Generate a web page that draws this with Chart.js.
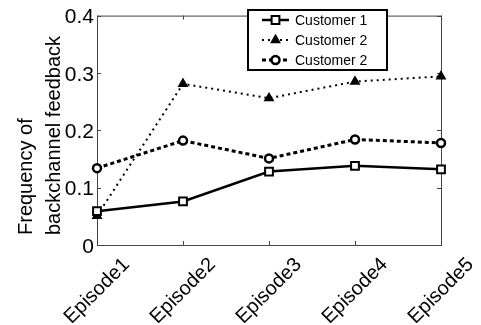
<!DOCTYPE html>
<html>
<head>
  <title>Backchannel feedback</title>
  <script src="https://cdn.jsdelivr.net/npm/chart.js"></script>
  <style>
    body { margin: 0; background: #fff; }
    canvas { display: block; }
  </style>
</head>
<body>
  <canvas id="feedbackChart" width="481" height="325"></canvas>
  <script>
    const categories = ['Episode1', 'Episode2', 'Episode3', 'Episode4', 'Episode5'];
    const customer1 = [0.059, 0.076, 0.128, 0.138, 0.132];
    const customer2Dotted = [0.051, 0.281, 0.256, 0.285, 0.294];
    const customer2Dashed = [0.134, 0.182, 0.151, 0.184, 0.178];
    const seriesNames = ['Customer 1', 'Customer 2', 'Customer 2'];
    const yTicks = [0, 0.1, 0.2, 0.3, 0.4];
    const yTitle = ['Frequency of', 'backchannel feedback'];

    const FONT = '"Liberation Sans", Arial, sans-serif';
    Chart.defaults.font.family = FONT;
    Chart.defaults.color = '#000';

    function marker(ctx, style, x, y, r, fill) {
      ctx.save();
      ctx.beginPath();
      if (style === 'rect') {
        const s = r * Math.SQRT1_2;
        ctx.rect(x - s, y - s, 2 * s, 2 * s);
      } else if (style === 'triangle') {
        ctx.moveTo(x, y - r);
        ctx.lineTo(x + r * 0.866, y + r * 0.5);
        ctx.lineTo(x - r * 0.866, y + r * 0.5);
        ctx.closePath();
      } else {
        ctx.arc(x, y, r, 0, Math.PI * 2);
      }
      ctx.fillStyle = fill;
      ctx.fill();
      ctx.setLineDash([]);
      ctx.stroke();
      ctx.restore();
    }

    // matlab-ish box, inward ticks, rotated labels, y title and legend
    const decorations = {
      id: 'decorations',
      beforeDatasetsDraw(chart) {
        const { ctx, chartArea: a, scales: { x, y } } = chart;
        ctx.save();
        ctx.strokeStyle = '#444';
        ctx.lineWidth = 1;
        ctx.strokeRect(a.left + 0.5, a.top + 0.5, a.right - a.left, a.bottom - a.top);
        ctx.beginPath();
        categories.forEach((c, i) => {
          const px = Math.round(x.getPixelForTick(i)) + 0.5;
          ctx.moveTo(px, a.bottom); ctx.lineTo(px, a.bottom - 4);
          ctx.moveTo(px, a.top); ctx.lineTo(px, a.top + 4);
        });
        yTicks.forEach(v => {
          const py = Math.round(y.getPixelForValue(v)) + 0.5;
          ctx.moveTo(a.left, py); ctx.lineTo(a.left + 4, py);
          ctx.moveTo(a.right, py); ctx.lineTo(a.right - 4, py);
        });
        ctx.stroke();
        ctx.restore();
      },
      afterDraw(chart) {
        const { ctx, chartArea: a, scales: { x } } = chart;
        ctx.save();
        ctx.fillStyle = '#000';

        // x labels, rotated 45 deg and centred on the tick
        ctx.font = '20px ' + FONT;
        ctx.textAlign = 'center';
        ctx.textBaseline = 'middle';
        categories.forEach((c, i) => {
          ctx.save();
          ctx.translate(x.getPixelForTick(i), a.bottom + 46);
          ctx.rotate(-Math.PI / 4);
          ctx.fillText(c, 0, 0);
          ctx.restore();
        });

        // y title, two lines, start aligned
        ctx.textAlign = 'left';
        ctx.textBaseline = 'alphabetic';
        [32, 60].forEach((bx, i) => {
          ctx.save();
          ctx.translate(bx, 235);
          ctx.rotate(-Math.PI / 2);
          ctx.fillText(yTitle[i], 0, 0);
          ctx.restore();
        });

        // legend
        const lx = 248, ly = 10, lw = 139, lh = 60;
        ctx.fillStyle = '#fff';
        ctx.fillRect(lx, ly, lw, lh);
        ctx.strokeStyle = '#000';
        ctx.lineWidth = 2;
        ctx.strokeRect(lx, ly, lw, lh);
        ctx.font = '14px ' + FONT;
        ctx.textBaseline = 'middle';
        chart.data.datasets.forEach((ds, i) => {
          const ry = 20 + i * 20;
          ctx.save();
          ctx.strokeStyle = '#000';
          ctx.lineWidth = ds.borderWidth;
          ctx.setLineDash(ds.borderDash || []);
          ctx.beginPath();
          ctx.moveTo(262, ry); ctx.lineTo(289, ry);
          ctx.stroke();
          ctx.lineWidth = ds.pointBorderWidth;
          marker(ctx, ds.pointStyle, 275.5, ry, ds.pointRadius, ds.pointBackgroundColor);
          ctx.restore();
          ctx.fillStyle = '#000';
          ctx.fillText(ds.label, 295, ry + 1);
        });
        ctx.restore();
      }
    };

    new Chart(document.getElementById('feedbackChart'), {
      type: 'line',
      data: {
        labels: categories,
        datasets: [
          {
            label: seriesNames[0], data: customer1,
            borderColor: '#000', borderWidth: 2.5,
            pointStyle: 'rect', pointRadius: 5.5, pointBorderWidth: 2,
            pointBorderColor: '#000', pointBackgroundColor: '#fff', clip: false
          },
          {
            label: seriesNames[1], data: customer2Dotted,
            borderColor: '#000', borderWidth: 2, borderDash: [2, 4],
            pointStyle: 'triangle', pointRadius: 4.8, pointBorderWidth: 1.5,
            pointBorderColor: '#000', pointBackgroundColor: '#000', clip: false
          },
          {
            label: seriesNames[2], data: customer2Dashed,
            borderColor: '#000', borderWidth: 3, borderDash: [4, 3],
            pointStyle: 'circle', pointRadius: 4, pointBorderWidth: 2.5,
            pointBorderColor: '#000', pointBackgroundColor: '#fff', clip: false
          }
        ]
      },
      options: {
        responsive: false,
        animation: false,
        events: [],
        layout: { padding: { top: 9, right: 40, left: 0, bottom: 0 } },
        plugins: { legend: { display: false }, tooltip: { enabled: false } },
        scales: {
          x: {
            type: 'category',
            offset: false,
            grid: { display: false, drawTicks: false },
            border: { display: false },
            ticks: { display: false },
            afterFit: s => { s.height = 80; }
          },
          y: {
            min: 0, max: 0.4,
            grid: { display: false, drawTicks: false },
            border: { display: false },
            ticks: {
              stepSize: 0.1, padding: 3, labelOffset: 2,
              font: { size: 21 },
              callback: v => yTicks.includes(Math.round(v * 10) / 10) ? String(Math.round(v * 10) / 10) : ''
            },
            afterFit: s => { s.width = 97; }
          }
        }
      },
      plugins: [decorations]
    });
  </script>
</body>
</html>
